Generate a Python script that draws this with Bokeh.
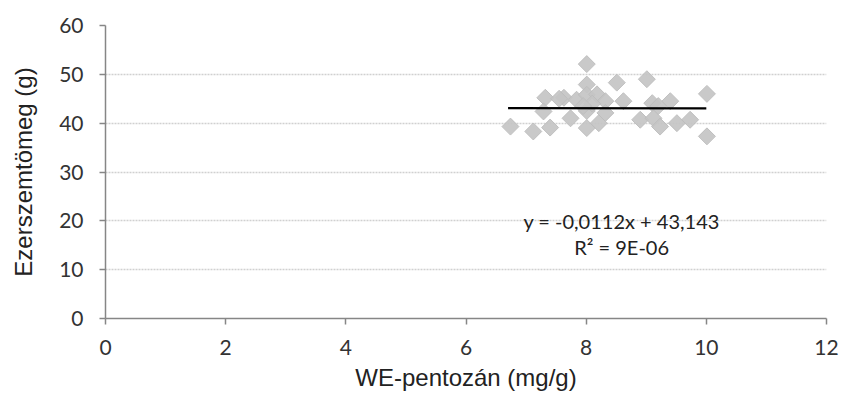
import math
from bokeh.plotting import figure
from bokeh.models import ColumnDataSource, FixedTicker, Range1d
from bokeh.core.properties import value
from bokeh.embed import file_html
from bokeh.resources import INLINE

pentozan = [6.74, 7.12, 7.32, 7.29, 7.40, 7.63, 7.74, 7.84, 8.01, 8.01, 8.01, 8.01, 8.01,
            8.18, 8.21, 8.32, 8.32, 8.51, 8.62, 8.90, 9.01, 9.10, 9.12, 9.23, 9.40, 9.51,
            9.73, 10.01, 10.01, 7.55, 8.10, 7.95, 9.20]
ezerszem = [39.3, 38.3, 45.2, 42.4, 39.1, 45.2, 41.0, 44.8, 52.1, 47.9, 45.8, 42.5, 39.0,
            45.9, 40.0, 44.5, 42.1, 48.3, 44.5, 40.7, 49.0, 44.1, 41.0, 39.3, 44.5, 40.0,
            40.7, 46.0, 37.3, 45.0, 44.0, 43.5, 43.5]
slope = -0.0112
intercept = 43.143
trend_x = [6.7, 10.0]
x_ticks = [0, 2, 4, 6, 8, 10, 12]
y_ticks = [0, 10, 20, 30, 40, 50, 60]
eq_lines = ["y = -0,0112x + 43,143", "R² = 9E-06"]

p = figure(width=842, height=403, output_backend="svg", toolbar_location=None,
           x_range=Range1d(0, 12), y_range=Range1d(0, 60),
           min_border_left=105, min_border_right=16, min_border_top=25, min_border_bottom=85)
p.outline_line_color = None
p.background_fill_color = "white"

src = ColumnDataSource(dict(x=pentozan, y=ezerszem))
p.scatter("x", "y", source=src, marker="square", size=12, angle=math.pi / 4,
          fill_color="#c4c4c4", line_color="#bcbcbc", fill_alpha=0.92, line_alpha=0.9)

ty = [slope * v + intercept for v in trend_x]
p.line(trend_x, ty, line_color="black", line_width=2.2)

p.text(x=[8.59, 8.59], y=[19.9, 14.6], text=eq_lines,
       text_font=value("Lato"), text_font_size="20px", text_color="#222222",
       text_align="center", text_baseline="middle")

p.xgrid.grid_line_color = None
p.ygrid.grid_line_color = "#d0d0d0"
p.ygrid.grid_line_dash = "2 1"
p.ygrid.grid_line_width = 1.5

for ax in (p.xaxis, p.yaxis):
    ax.axis_line_color = "#868686"
    ax.axis_line_width = 1.5
    ax.major_tick_line_color = "#868686"
    ax.major_tick_line_width = 1.5
    ax.major_tick_out = 6
    ax.major_tick_in = 0
    ax.minor_tick_line_color = None
    ax.major_label_text_font = "Lato"
    ax.major_label_text_font_size = "21px"
    ax.major_label_text_color = "#333333"
    ax.axis_label_text_font = "Liberation Sans"
    ax.axis_label_text_font_size = "24px"
    ax.axis_label_text_font_style = "normal"
    ax.axis_label_text_color = "#222222"

p.xaxis.ticker = FixedTicker(ticks=x_ticks)
p.yaxis.ticker = FixedTicker(ticks=y_ticks)
p.xaxis.axis_label = "WE-pentozán (mg/g)"
p.yaxis.axis_label = "Ezerszemtömeg (g)"
p.xaxis.major_label_standoff = 15
p.yaxis.major_label_standoff = 16
p.xaxis.axis_label_standoff = 6
p.yaxis.axis_label_standoff = 19

open("out.html", "w").write(file_html(p, INLINE))
